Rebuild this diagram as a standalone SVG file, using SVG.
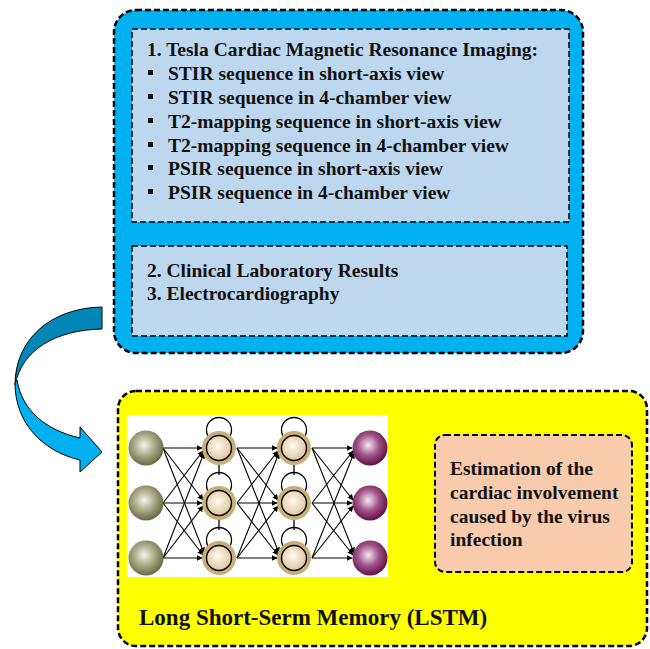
<svg xmlns="http://www.w3.org/2000/svg" width="650" height="649" viewBox="0 0 650 649">
<defs>
<style>
.t{font-family:"Liberation Serif","Times New Roman",serif;font-weight:bold;font-size:19.5px;fill:#111}
.big{font-size:23px}
.dash{stroke:#000;stroke-dasharray:6 3}
.e{stroke:#000;stroke-width:1.1;fill:none;marker-end:url(#ah)}
.loop{stroke:#000;stroke-width:1.3;fill:none}
</style>
<marker id="ah" viewBox="0 0 10 10" refX="9" refY="5" markerWidth="6" markerHeight="6" orient="auto" markerUnits="userSpaceOnUse">
<path d="M0,0 L10,5 L0,10 Z" fill="#000"/>
</marker>
<radialGradient id="gIn" cx="0.45" cy="0.42" r="0.6">
<stop offset="0" stop-color="#f4f4ee"/><stop offset="0.5" stop-color="#a9aa86"/><stop offset="1" stop-color="#62653d"/>
</radialGradient>
<radialGradient id="gOut" cx="0.45" cy="0.42" r="0.6">
<stop offset="0" stop-color="#f6e9f1"/><stop offset="0.5" stop-color="#a2568a"/><stop offset="1" stop-color="#5e0a42"/>
</radialGradient>
<radialGradient id="gHid" cx="0.45" cy="0.42" r="0.6">
<stop offset="0" stop-color="#fffaf0"/><stop offset="1" stop-color="#dcc49a"/>
</radialGradient>
<g id="hid">
<circle r="17" fill="#c9ae78"/>
<circle r="12.5" fill="url(#gHid)" stroke="#000" stroke-width="1.4"/>
</g>
</defs>

<!-- Top blue container -->
<g id="inputs">
<rect x="114" y="10" width="469" height="343" rx="22" fill="#00b0f0" class="dash" stroke-width="2.5"/>
<g id="mri">
<rect x="132" y="29" width="437" height="193" fill="#bdd7ee" class="dash" stroke-width="1.5" stroke-dasharray="4 2"/>
<text class="t" x="147" y="56">1. Tesla Cardiac Magnetic Resonance Imaging:</text>
<g fill="#111">
<rect x="148" y="70" width="5" height="5"/>
<rect x="148" y="94" width="5" height="5"/>
<rect x="148" y="118" width="5" height="5"/>
<rect x="148" y="142" width="5" height="5"/>
<rect x="148" y="165" width="5" height="5"/>
<rect x="148" y="189" width="5" height="5"/>
</g>
<text class="t" x="168" y="80">STIR sequence in short-axis view</text>
<text class="t" x="168" y="104">STIR sequence in 4-chamber view</text>
<text class="t" x="168" y="128">T2-mapping sequence in short-axis view</text>
<text class="t" x="168" y="152">T2-mapping sequence in 4-chamber view</text>
<text class="t" x="168" y="175">PSIR sequence in short-axis view</text>
<text class="t" x="168" y="199">PSIR sequence in 4-chamber view</text>
</g>
<g id="clinical">
<rect x="132" y="246" width="435" height="90" fill="#bdd7ee" class="dash" stroke-width="1.5" stroke-dasharray="4 2"/>
<text class="t" x="147" y="277">2. Clinical Laboratory Results</text>
<text class="t" x="147" y="300">3. Electrocardiography</text>
</g>
</g>

<!-- Connectors -->
<g id="connectors">
<path d="M102,307 C50,308 15,340 15,385 C22,350 55,330 102,329 Z" fill="#0087b8" stroke="#000" stroke-width="1"/>
<path d="M15,383 C15,425 45,452 80,460 L80,472 L102,452 L80,427 L80,438 C45,430 22,410 17,380 Z" fill="#00b0f0" stroke="#000" stroke-width="1"/>
<polygon points="392,492 412,492 412,487 428,503 412,520 412,513 392,513" fill="#002060"/>
</g>

<!-- LSTM container -->
<g id="lstm">
<rect x="118" y="391" width="529" height="255" rx="18" fill="#ffff00" class="dash" stroke-width="2.5"/>
<rect x="127" y="415" width="261" height="162" fill="#ffffff"/>
<g id="edges">
<line class="e" x1="163" y1="448" x2="202" y2="448"/>
<line class="e" x1="163" y1="448" x2="203" y2="500"/>
<line class="e" x1="163" y1="448" x2="204" y2="553"/>
<line class="e" x1="163" y1="503" x2="203" y2="451"/>
<line class="e" x1="163" y1="503" x2="202" y2="503"/>
<line class="e" x1="163" y1="503" x2="203" y2="555"/>
<line class="e" x1="163" y1="558" x2="204" y2="453"/>
<line class="e" x1="163" y1="558" x2="203" y2="506"/>
<line class="e" x1="163" y1="558" x2="202" y2="558"/>
<line class="e" x1="237" y1="448" x2="277" y2="448"/>
<line class="e" x1="237" y1="448" x2="278" y2="500"/>
<line class="e" x1="237" y1="448" x2="279" y2="553"/>
<line class="e" x1="237" y1="503" x2="278" y2="451"/>
<line class="e" x1="237" y1="503" x2="277" y2="503"/>
<line class="e" x1="237" y1="503" x2="278" y2="555"/>
<line class="e" x1="237" y1="558" x2="279" y2="453"/>
<line class="e" x1="237" y1="558" x2="278" y2="506"/>
<line class="e" x1="237" y1="558" x2="277" y2="558"/>
<line class="e" x1="312" y1="448" x2="352" y2="448"/>
<line class="e" x1="312" y1="448" x2="353" y2="500"/>
<line class="e" x1="312" y1="448" x2="354" y2="553"/>
<line class="e" x1="312" y1="503" x2="353" y2="451"/>
<line class="e" x1="312" y1="503" x2="352" y2="503"/>
<line class="e" x1="312" y1="503" x2="353" y2="555"/>
<line class="e" x1="312" y1="558" x2="354" y2="453"/>
<line class="e" x1="312" y1="558" x2="353" y2="506"/>
<line class="e" x1="312" y1="558" x2="352" y2="558"/>
</g>
<g id="loops">
<circle class="loop" cx="219" cy="430" r="12.5"/>
<circle class="loop" cx="219" cy="485" r="12.5"/>
<circle class="loop" cx="219" cy="540" r="12.5"/>
<circle class="loop" cx="294" cy="430" r="12.5"/>
<circle class="loop" cx="294" cy="485" r="12.5"/>
<circle class="loop" cx="294" cy="540" r="12.5"/>
<line class="loop" x1="219" y1="460" x2="219" y2="475"/>
<line class="loop" x1="219" y1="515" x2="219" y2="530"/>
<line class="loop" x1="294" y1="460" x2="294" y2="475"/>
<line class="loop" x1="294" y1="515" x2="294" y2="530"/>
</g>
<g id="input-layer">
<circle cx="146" cy="448" r="17.5" fill="url(#gIn)"/>
<circle cx="146" cy="503" r="17.5" fill="url(#gIn)"/>
<circle cx="146" cy="558" r="17.5" fill="url(#gIn)"/>
</g>
<g id="hidden-layer-1">
<use href="#hid" x="219" y="448"/>
<use href="#hid" x="219" y="503"/>
<use href="#hid" x="219" y="558"/>
</g>
<g id="hidden-layer-2">
<use href="#hid" x="294" y="448"/>
<use href="#hid" x="294" y="503"/>
<use href="#hid" x="294" y="558"/>
</g>
<g id="output-layer">
<circle cx="370" cy="448" r="17.5" fill="url(#gOut)"/>
<circle cx="370" cy="503" r="17.5" fill="url(#gOut)"/>
<circle cx="370" cy="558" r="17.5" fill="url(#gOut)"/>
</g>
<text class="t big" x="139" y="625">Long Short-Serm Memory (LSTM)</text>
</g>

<!-- Output estimation -->
<g id="estimation">
<rect x="435" y="435" width="197" height="137" rx="10" fill="#f8cbad" class="dash" stroke-width="2"/>
<text class="t" x="450" y="475">Estimation of the</text>
<text class="t" x="450" y="499">cardiac involvement</text>
<text class="t" x="450" y="523">caused by the virus</text>
<text class="t" x="450" y="546">infection</text>
</g>
</svg>
